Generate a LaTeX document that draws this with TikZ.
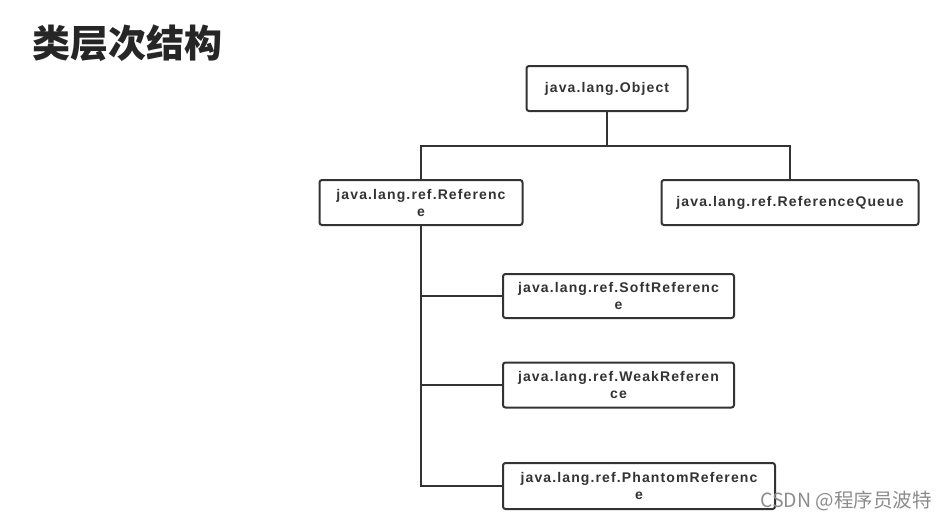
\documentclass[tikz,border=0pt]{standalone}
\usepackage{fontspec}
\setmainfont{Liberation Sans}
\newfontfamily\boxfont{Liberation Sans}[LetterSpace=8]
\newfontfamily\cjkfont{Noto Sans CJK SC}
\usetikzlibrary{positioning}

\begin{document}
\begin{tikzpicture}[
    x=1pt, y=-1pt,
    box/.style={draw=black!80, line width=2pt, rounded corners=2.5pt, fill=white,
        text=black!80, align=center, inner sep=0pt, minimum height=45pt,
        font=\boxfont\bfseries\fontsize{14}{17}\selectfont}, % class boxes
    link/.style={draw=black!80, line width=2pt} % tree lines
]
    \useasboundingbox (0,0) rectangle (947,523);

    % === Title ===
    \node[font=\cjkfont\bfseries\fontsize{38}{40}\selectfont, text=black!85] (title) at (127,43) {类层次结构};

    % === Class boxes ===
    \node[box, minimum width=161pt] (obj) at (607,88.5) {java.lang.Object};
    \node[box, minimum width=203pt] (ref) at (421,202.5) {java.lang.ref.Referenc\\e};
    \node[box, minimum width=257pt] (queue) at (790,202.5) {java.lang.ref.ReferenceQueue};
    \node[box, minimum width=231pt, minimum height=44pt] (soft) at (618.5,296) {java.lang.ref.SoftReferenc\\e};
    \node[box, minimum width=231pt] (weak) at (618.5,385) {java.lang.ref.WeakReferen\\ce};
    \node[box, minimum width=272pt, minimum height=46pt] (phantom) at (639,486) {java.lang.ref.PhantomReferenc\\e};

    % === Connectors ===
    \draw[link] (obj.south) -- ++(0,34) coordinate (fork);
    \draw[link] (ref.north) |- (fork) -| (queue.north);
    \draw[link] (ref.south) |- (soft.west);
    \draw[link] (ref.south) |- (weak.west);
    \draw[link] (ref.south) |- (phantom.west);

    % === Watermark (over the last box) ===
    \node[font=\cjkfont\fontsize{19.5}{21}\selectfont, text=black!45] (mark) at (846,501) {CSDN @程序员波特};
\end{tikzpicture}
\end{document}
